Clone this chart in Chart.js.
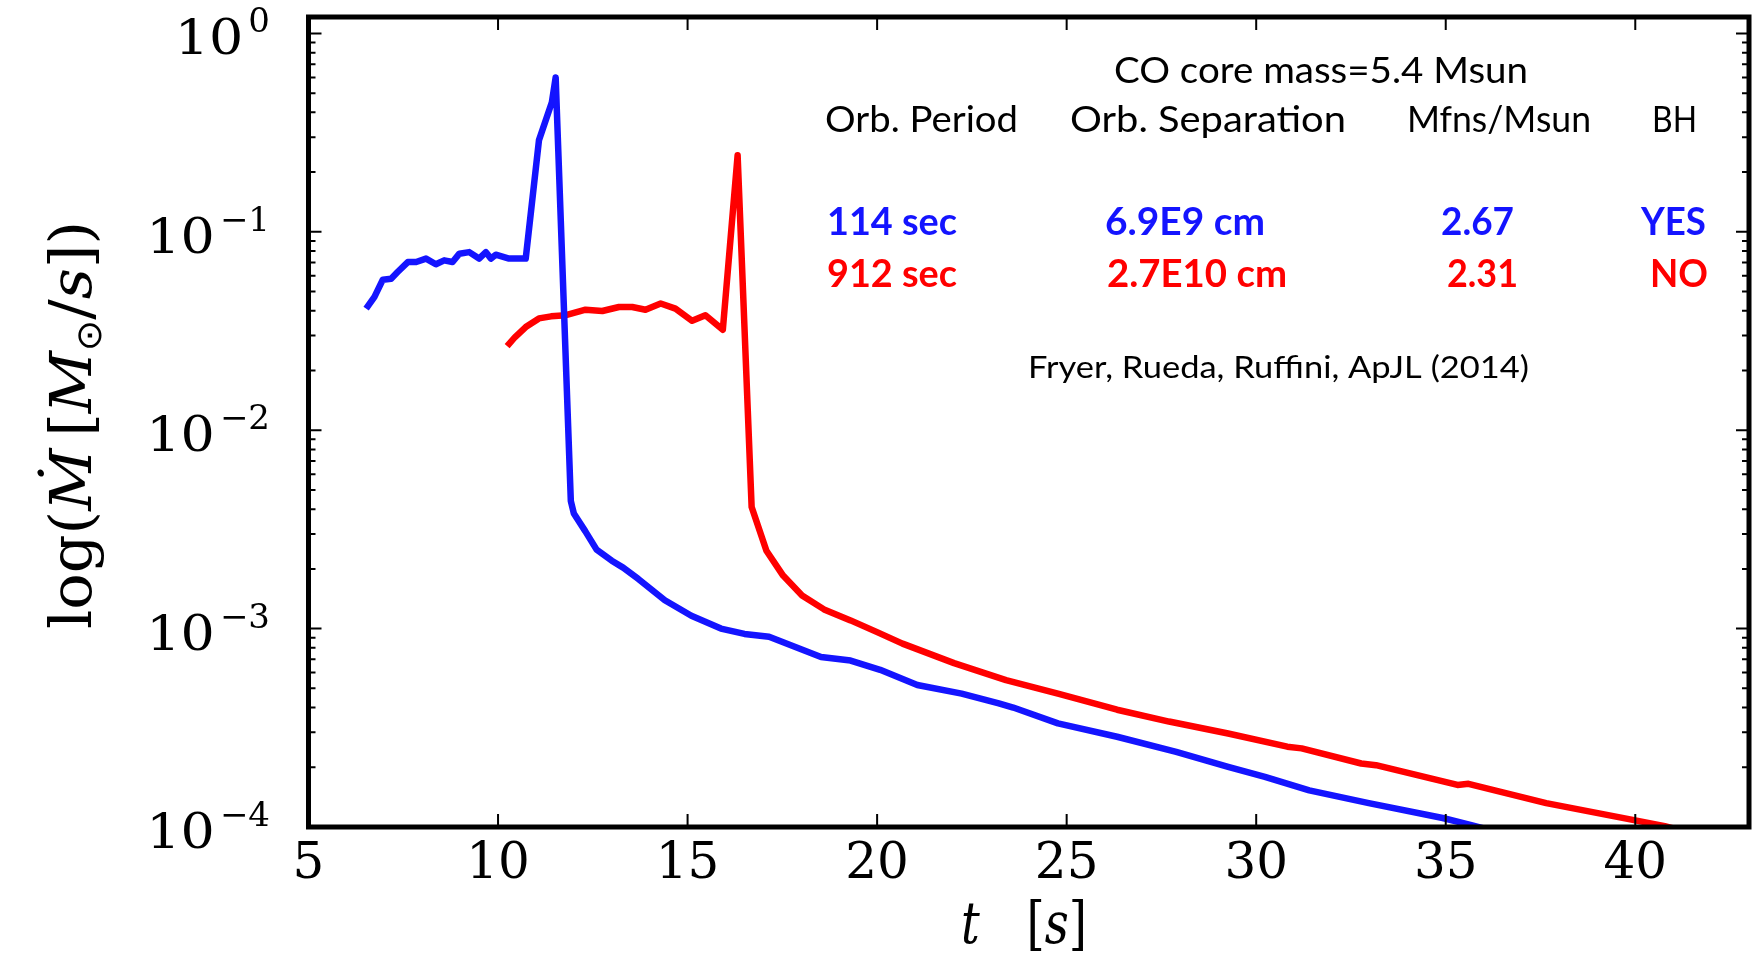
<!DOCTYPE html>
<html><head><meta charset="utf-8">
<script src="https://cdn.jsdelivr.net/npm/chart.js@4.4.0/dist/chart.umd.min.js"></script>
<style>html,body{margin:0;padding:0;background:#fff;}#wrap{width:1762px;height:955px;}</style>
</head><body><div id="wrap"><canvas id="c" width="1762" height="955"></canvas></div>
<script>
// ---- data ----
const blueT = [6.52,6.74,6.96,7.18,7.35,7.62,7.84,8.10,8.36,8.58,8.80,8.98,9.24,9.50,9.68,9.81,9.94,10.29,10.73,11.08,11.42,11.52,11.92,12.0,12.3,12.6,13.0,13.3,13.7,14.4,15.1,15.88,16.5,17.15,18.52,19.3,20.08,21.06,22.23,23.21,23.59,24.77,26.33,27.89,29.26,30.23,31.4,32.97,34.92,35.7,36.0];
const blueMdot = [0.041,0.047,0.0574,0.058,0.0627,0.0704,0.0704,0.0733,0.0686,0.0718,0.0704,0.0776,0.079,0.0733,0.079,0.0733,0.0767,0.0733,0.0733,0.29,0.45,0.60,0.0044,0.0038,0.0031,0.0025,0.0022,0.00203,0.00178,0.00139,0.00116,0.00100,0.00094,0.00091,0.00072,0.00069,0.00062,0.00052,0.00047,0.00042,0.00040,0.000333,0.000285,0.000239,0.000201,0.000179,0.000153,0.000132,0.000111,0.000102,0.0000985];
const redT = [10.24,10.45,10.73,11.08,11.4,11.79,12.31,12.75,13.19,13.54,13.89,14.29,14.68,15.12,15.47,15.93,16.32,16.69,17.08,17.52,18.02,18.6,19.3,20.0,20.67,22.03,23.4,24.77,26.33,27.7,29.26,30.82,31.2,32.77,33.16,35.31,35.6,37.65,40.0,40.78,41.0];
const redMdot = [0.0265,0.0295,0.0331,0.0366,0.0375,0.038,0.0405,0.0399,0.0418,0.0418,0.0405,0.0435,0.041,0.0356,0.038,0.0321,0.243,0.0041,0.00247,0.00185,0.00147,0.00125,0.0011,0.00096,0.00084,0.00067,0.00055,0.00047,0.00039,0.00034,0.000296,0.000254,0.000249,0.000209,0.000205,0.000163,0.000165,0.000132,0.000108,0.000101,0.0000985];
const xTickValues = [5,10,15,20,25,30,35,40];
const yDecades = [-4,-3,-2,-1,0];
const coreText = 'CO core mass=5.4 Msun';
const headerLabels = ['Orb. Period','Orb. Separation','Mfns/Msun','BH'];
const blueRow = ['114 sec','6.9E9 cm','2.67','YES'];
const redRow = ['912 sec','2.7E10 cm','2.31','NO'];
const citation = 'Fryer, Rueda, Ruffini, ApJL (2014)';

// ---- styles / layout ----
const BLUE = '#1414ff', RED = '#ff0000';
const SANS = 'Lato, "Noto Sans", sans-serif';
const SERIF = '"DejaVu Serif", serif';
const layoutBoxes = {
  core: {x:1114, y:83, w:414},
  headers: [{x:825,w:193},{x:1070,w:276},{x:1407,w:184},{x:1652,w:45}], headerY:132,
  blue: [{x:827,w:130},{x:1105,w:160},{x:1441,w:73},{x:1641,w:65}], blueY:235,
  red: [{x:827,w:130},{x:1107,w:180},{x:1447,w:71},{x:1650,w:58}], redY:287,
  cite: {x:1028, y:378, w:501}
};

function fitText(ctx, text, x, y, w, font, color){
  ctx.save();
  ctx.font = font; ctx.fillStyle = color; ctx.textAlign = 'left'; ctx.textBaseline = 'alphabetic';
  const m = ctx.measureText(text).width;
  ctx.translate(x, y); ctx.scale(w / m, 1);
  ctx.fillText(text, 0, 0);
  ctx.restore();
}
function drawPieces(ctx, pieces, L){
  let total = 0;
  pieces.forEach(p => { ctx.font = p[1]; p.w = ctx.measureText(p[0]).width; total += p.w; });
  const s = L / total;
  ctx.save(); ctx.scale(s, 1);
  let x = -total / 2;
  ctx.textAlign = 'left'; ctx.textBaseline = 'alphabetic'; ctx.fillStyle = '#000';
  pieces.forEach(p => { ctx.font = p[1]; ctx.fillText(p[0], x, p[2] || 0); x += p.w; });
  ctx.restore();
}

const framePlugin = {
  id: 'frame',
  afterDatasetsDraw(chart){
    const ctx = chart.ctx, a = chart.chartArea;
    const xs = chart.scales.x, ys = chart.scales.y;
    ctx.save();
    ctx.strokeStyle = '#000';
    ctx.lineWidth = 2;
    ctx.beginPath();
    xTickValues.forEach(v => {
      const px = xs.getPixelForValue(v);
      ctx.moveTo(px, a.bottom); ctx.lineTo(px, a.bottom - 13);
      ctx.moveTo(px, a.top); ctx.lineTo(px, a.top + 13);
    });
    yDecades.forEach(d => {
      for (let k = 1; k <= 9; k++) {
        const v = k * Math.pow(10, d);
        if (v < ys.min || v > ys.max) continue;
        const py = ys.getPixelForValue(v);
        const len = k === 1 ? 13 : 7;
        ctx.moveTo(a.left, py); ctx.lineTo(a.left + len, py);
        ctx.moveTo(a.right, py); ctx.lineTo(a.right - len, py);
      }
    });
    ctx.stroke();
    ctx.lineWidth = 5;
    ctx.strokeRect(a.left, a.top, a.right - a.left, a.bottom - a.top);
    ctx.restore();
  },
  afterDraw(chart){
    const ctx = chart.ctx, ys = chart.scales.y;
    yDecades.forEach(d => {
      const py = ys.getPixelForValue(Math.pow(10, d));
      const exp = d === 0 ? '0' : '\u2212' + Math.abs(d);
      ctx.save();
      ctx.fillStyle = '#000'; ctx.textBaseline = 'alphabetic'; ctx.textAlign = 'right';
      ctx.font = '34px ' + SERIF;
      const ew = ctx.measureText(exp).width;
      ctx.fillText(exp, 270, py - 1);
      ctx.font = '49px ' + SERIF;
      ctx.save(); ctx.translate(270 - ew - 5, py + 21); ctx.scale(1.1, 1);
      ctx.fillText('10', 0, 0); ctx.restore();
      ctx.restore();
    });
    ctx.save();
    ctx.translate(91, 425); ctx.rotate(-Math.PI / 2);
    const F = 57, it = 'italic ' + F + 'px ' + SERIF, rm = F + 'px ' + SERIF;
    drawPieces(ctx, [
      ['log(', rm], ['\u1E40', it], ['\u2009[', rm], ['M', it], ['\u2299', (F*0.62)+'px "DejaVu Sans", sans-serif', 10],
      ['/', rm], ['s', it], [']', rm], [')', rm]
    ], 408);
    ctx.restore();
    ctx.save();
    ctx.translate(1024, 943);
    drawPieces(ctx, [['t', it], ['\u2003[', rm], ['s', it], [']', rm]], 126);
    ctx.restore();
    const L = layoutBoxes;
    fitText(ctx, coreText, L.core.x, L.core.y, L.core.w, '37px ' + SANS, '#000');
    headerLabels.forEach((t, i) => fitText(ctx, t, L.headers[i].x, L.headerY, L.headers[i].w, '37px ' + SANS, '#000'));
    blueRow.forEach((t, i) => fitText(ctx, t, L.blue[i].x, L.blueY, L.blue[i].w, 'bold 39px ' + SANS, BLUE));
    redRow.forEach((t, i) => fitText(ctx, t, L.red[i].x, L.redY, L.red[i].w, 'bold 39px ' + SANS, RED));
    fitText(ctx, citation, L.cite.x, L.cite.y, L.cite.w, '30px ' + SANS, '#000');
  }
};

const toXY = (xs, ys) => xs.map((x, i) => ({x, y: ys[i]}));

new Chart(document.getElementById('c'), {
  type: 'line',
  data: {
    datasets: [
      {label: '114 sec', data: toXY(blueT, blueMdot), borderColor: BLUE, borderWidth: 6.5, pointRadius: 0, tension: 0, fill: false, clip: 0, borderJoinStyle: 'round'},
      {label: '912 sec', data: toXY(redT, redMdot), borderColor: RED, borderWidth: 6.5, pointRadius: 0, tension: 0, fill: false, clip: 0, borderJoinStyle: 'round'}
    ]
  },
  options: {
    responsive: false, animation: false, devicePixelRatio: 1,
    layout: {padding: {left: 0, right: 13, top: 17, bottom: 0}},
    plugins: {legend: {display: false}, tooltip: {enabled: false}},
    scales: {
      x: {
        type: 'linear', min: 5, max: 43,
        grid: {display: false, drawTicks: false}, border: {display: false},
        ticks: {stepSize: 5, includeBounds: false, padding: 8, color: '#000', font: {family: 'DejaVu Serif', size: 50}, maxRotation: 0, autoSkip: false},
        afterFit(s){ s.height = 128; }
      },
      y: {
        type: 'logarithmic', min: 1e-4, max: 1.21,
        grid: {display: false, drawTicks: false}, border: {display: false},
        ticks: {display: false},
        afterFit(s){ s.width = 308.5; }
      }
    }
  },
  plugins: [framePlugin]
});
</script></body></html>
